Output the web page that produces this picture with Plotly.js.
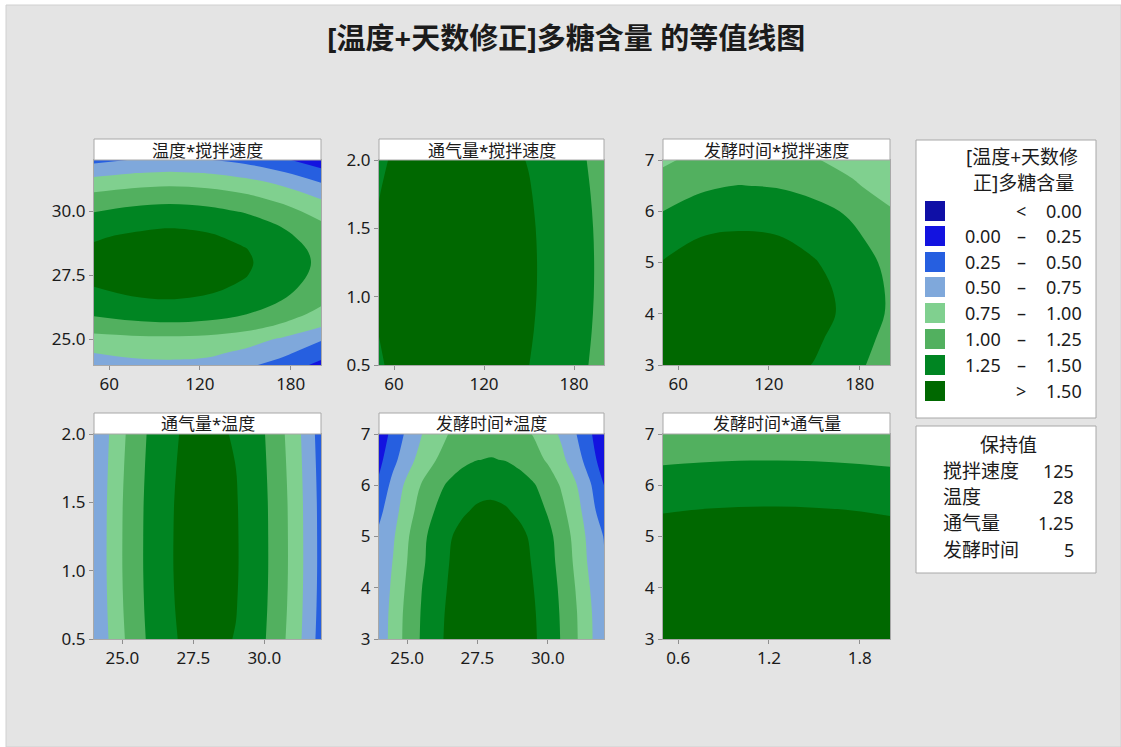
<!DOCTYPE html>
<html>
<head>
<meta charset="utf-8">
<script src="https://cdn.plot.ly/plotly-3.0.1.min.js"></script>
<style>
html, body { margin: 0; padding: 0; background: #ffffff; }
#chart { width: 1121px; height: 747px; }
</style>
</head>
<body>
<div id="chart"></div>
<script>
// ---------------- data ----------------
const speedVals = [50, 75, 100, 125, 150, 175, 200];
const tempVals = [24, 25, 26, 27, 28, 29, 30, 31, 32];
const tempValsFine = [24, 24.5, 25, 25.5, 26, 26.5, 27, 27.5, 28, 28.5, 29, 29.5, 30, 30.5, 31, 31.5, 32];
const airVals = [0.5, 0.75, 1.0, 1.25, 1.5, 1.75, 2.0];
const timeVals = [3, 3.5, 4, 4.5, 5, 5.5, 6, 6.5, 7];

// rows follow the y values, columns follow the x values
// 温度 (rows, tempValsFine) x 搅拌速度 (cols, speedVals)
const zTempSpeed = [
  [0.62, 0.68, 0.70, 0.68, 0.55, 0.40, 0.18],
  [0.76, 0.81, 0.82, 0.80, 0.71, 0.56, 0.36],
  [0.90, 0.93, 0.94, 0.92, 0.85, 0.71, 0.52],
  [1.12, 1.17, 1.19, 1.17, 1.09, 0.95, 0.76],
  [1.28, 1.34, 1.37, 1.34, 1.26, 1.12, 0.93],
  [1.41, 1.47, 1.49, 1.46, 1.38, 1.24, 1.05],
  [1.495, 1.55, 1.57, 1.54, 1.46, 1.32, 1.13],
  [1.54, 1.60, 1.62, 1.59, 1.51, 1.37, 1.18],
  [1.555, 1.61, 1.64, 1.61, 1.53, 1.39, 1.20],
  [1.53, 1.59, 1.615, 1.59, 1.51, 1.37, 1.18],
  [1.48, 1.53, 1.56, 1.53, 1.45, 1.31, 1.12],
  [1.38, 1.44, 1.47, 1.44, 1.36, 1.22, 1.03],
  [1.24, 1.31, 1.34, 1.31, 1.23, 1.09, 0.90],
  [1.09, 1.15, 1.18, 1.15, 1.07, 0.93, 0.74],
  [0.90, 0.96, 0.99, 0.96, 0.88, 0.74, 0.55],
  [0.68, 0.74, 0.77, 0.74, 0.66, 0.52, 0.33],
  [0.43, 0.51, 0.54, 0.51, 0.43, 0.29, 0.10]
];
// 通气量 (rows) x 搅拌速度 (cols)
const zAirSpeed = [
  [1.486, 1.581, 1.611, 1.581, 1.501, 1.361, 1.171],
  [1.503, 1.598, 1.628, 1.598, 1.518, 1.378, 1.188],
  [1.513, 1.608, 1.638, 1.608, 1.528, 1.388, 1.198],
  [1.515, 1.610, 1.640, 1.610, 1.530, 1.390, 1.200],
  [1.510, 1.605, 1.635, 1.605, 1.525, 1.385, 1.195],
  [1.497, 1.592, 1.622, 1.592, 1.512, 1.372, 1.182],
  [1.477, 1.572, 1.602, 1.572, 1.492, 1.352, 1.162]
];
// 发酵时间 (rows) x 搅拌速度 (cols)
const zTimeSpeed = [
  [1.58, 1.64, 1.65, 1.60, 1.49, 1.33, 1.11],
  [1.62, 1.685, 1.69, 1.64, 1.54, 1.38, 1.17],
  [1.66, 1.72, 1.73, 1.69, 1.59, 1.43, 1.22],
  [1.60, 1.68, 1.70, 1.66, 1.57, 1.42, 1.22],
  [1.51, 1.595, 1.625, 1.60, 1.515, 1.38, 1.19],
  [1.41, 1.50, 1.53, 1.51, 1.43, 1.30, 1.12],
  [1.25, 1.35, 1.40, 1.39, 1.33, 1.21, 1.03],
  [1.10, 1.21, 1.255, 1.235, 1.16, 1.04, 0.87],
  [0.96, 1.07, 1.11, 1.09, 1.02, 0.90, 0.77]
];
// 通气量 (rows) x 温度 (cols, tempVals)
const zAirTemp = [
  [0.52, 0.97, 1.31, 1.51, 1.57, 1.49, 1.27, 0.91, 0.40],
  [0.54, 0.99, 1.33, 1.53, 1.59, 1.51, 1.29, 0.93, 0.42],
  [0.55, 1.00, 1.34, 1.54, 1.60, 1.52, 1.30, 0.94, 0.43],
  [0.55, 1.00, 1.34, 1.54, 1.60, 1.52, 1.30, 0.94, 0.43],
  [0.545, 0.995, 1.335, 1.535, 1.595, 1.515, 1.295, 0.935, 0.425],
  [0.53, 0.98, 1.32, 1.52, 1.58, 1.50, 1.28, 0.92, 0.41],
  [0.51, 0.96, 1.30, 1.50, 1.56, 1.48, 1.26, 0.90, 0.39]
];
// 发酵时间 (rows) x 温度 (cols, tempValsFine)
const zTimeTemp = [
  [0.58, 0.85, 1.08, 1.27, 1.43, 1.55, 1.64, 1.69, 1.70, 1.68, 1.62, 1.53, 1.40, 1.23, 1.03, 0.80, 0.53],
  [0.57, 0.84, 1.07, 1.26, 1.42, 1.54, 1.63, 1.68, 1.69, 1.67, 1.61, 1.52, 1.39, 1.22, 1.02, 0.79, 0.52],
  [0.56, 0.80, 1.04, 1.24, 1.40, 1.52, 1.61, 1.665, 1.68, 1.66, 1.60, 1.50, 1.37, 1.20, 0.99, 0.75, 0.52],
  [0.56, 0.76, 1.00, 1.20, 1.37, 1.50, 1.59, 1.645, 1.66, 1.64, 1.58, 1.48, 1.34, 1.17, 0.95, 0.70, 0.52],
  [0.55, 0.72, 0.97, 1.18, 1.35, 1.48, 1.57, 1.625, 1.64, 1.62, 1.555, 1.455, 1.32, 1.14, 0.92, 0.67, 0.49],
  [0.44, 0.65, 0.89, 1.10, 1.26, 1.39, 1.477, 1.53, 1.545, 1.52, 1.46, 1.365, 1.23, 1.06, 0.85, 0.60, 0.36],
  [0.30, 0.58, 0.81, 1.01, 1.17, 1.29, 1.375, 1.426, 1.44, 1.42, 1.36, 1.27, 1.14, 0.97, 0.77, 0.53, 0.25],
  [0.18, 0.43, 0.65, 0.84, 0.99, 1.11, 1.197, 1.246, 1.26, 1.24, 1.18, 1.09, 0.97, 0.805, 0.61, 0.38, 0.10],
  [0.08, 0.335, 0.55, 0.74, 0.89, 1.01, 1.09, 1.136, 1.15, 1.13, 1.075, 0.986, 0.86, 0.705, 0.51, 0.287, 0.04]
];
// 发酵时间 (rows) x 通气量 (cols)
const zTimeAir = [
  [1.651, 1.668, 1.678, 1.680, 1.675, 1.662, 1.642],
  [1.661, 1.678, 1.688, 1.690, 1.685, 1.672, 1.652],
  [1.661, 1.678, 1.688, 1.690, 1.685, 1.672, 1.652],
  [1.631, 1.648, 1.658, 1.660, 1.655, 1.642, 1.622],
  [1.581, 1.598, 1.608, 1.610, 1.605, 1.592, 1.572],
  [1.491, 1.508, 1.518, 1.520, 1.515, 1.502, 1.482],
  [1.371, 1.388, 1.398, 1.400, 1.395, 1.382, 1.362],
  [1.216, 1.233, 1.243, 1.245, 1.240, 1.227, 1.207],
  [1.041, 1.058, 1.068, 1.070, 1.065, 1.052, 1.032]
];

const speedTicks = [60, 120, 180];
const tempTicks = [25, 27.5, 30];
const airTicksY = [0.5, 1.0, 1.5, 2.0];
const airTicksX = [0.6, 1.2, 1.8];
const timeTicks = [3, 4, 5, 6, 7];

const chartTitle = '[温度+天数修正]多糖含量 的等值线图';
const panelTitles = ['温度*搅拌速度', '通气量*搅拌速度', '发酵时间*搅拌速度',
                     '通气量*温度', '发酵时间*温度', '发酵时间*通气量'];
const levelStart = 0, levelEnd = 1.5, levelStep = 0.25;
const legendTitle = ['[温度+天数修', '正]多糖含量'];
const legendLow = ['', '0.00', '0.25', '0.50', '0.75', '1.00', '1.25', ''];
const legendSym = ['<', '–', '–', '–', '–', '–', '–', '>'];
const legendHigh = ['0.00', '0.25', '0.50', '0.75', '1.00', '1.25', '1.50', '1.50'];
const bandColors = ['#0f0fa6', '#1313e0', '#265fe0', '#7fa8db', '#80d08f', '#52b05f', '#008522', '#006800'];
const holdTitle = '保持值';
const holdNames = ['搅拌速度', '温度', '通气量', '发酵时间'];
const holdValues = ['125', '28', '1.25', '5'];

// ---------------- layout helpers ----------------
const W = 1121, H = 747;
const fx = p => p / W;
const fy = p => 1 - p / H;
const FONT = 'Noto Sans, Noto Sans CJK SC, sans-serif';
const TXT = '#1b1b1b';

const colsPx = [[94, 321], [379, 604], [663, 890]];
const rowsPx = [[160, 365], [434, 639]];
const headPx = [[139, 160], [413, 434]];

const colorscale = bandColors.map((c, i) => [i / (bandColors.length - 1), c]);

const panels = [
  {x: speedVals, y: tempValsFine, z: zTempSpeed, xr: [50, 200], yr: [24, 32], xt: speedTicks, xf: '', yt: tempTicks, yf: '.1f'},
  {x: speedVals, y: airVals, z: zAirSpeed, xr: [50, 200], yr: [0.5, 2.0], xt: speedTicks, xf: '', yt: airTicksY, yf: '.1f'},
  {x: speedVals, y: timeVals, z: zTimeSpeed, xr: [50, 200], yr: [3, 7], xt: speedTicks, xf: '', yt: timeTicks, yf: ''},
  {x: tempVals, y: airVals, z: zAirTemp, xr: [24, 32], yr: [0.5, 2.0], xt: tempTicks, xf: '.1f', yt: airTicksY, yf: '.1f'},
  {x: tempValsFine, y: timeVals, z: zTimeTemp, xr: [24, 32], yr: [3, 7], xt: tempTicks, xf: '.1f', yt: timeTicks, yf: ''},
  {x: airVals, y: timeVals, z: zTimeAir, xr: [0.5, 2.0], yr: [3, 7], xt: airTicksX, xf: '.1f', yt: timeTicks, yf: ''}
];

const traces = [];
const layout = {
  width: W, height: H,
  margin: {l: 0, r: 0, t: 0, b: 0},
  paper_bgcolor: '#ffffff',
  plot_bgcolor: 'rgba(0,0,0,0)',
  showlegend: false,
  font: {family: FONT, color: TXT},
  shapes: [],
  annotations: []
};

// figure background
layout.shapes.push({type: 'rect', xref: 'paper', yref: 'paper', layer: 'below',
  x0: fx(6), x1: fx(1121), y0: fy(747), y1: fy(5),
  fillcolor: '#e4e4e4', line: {color: '#d0d0d0', width: 1}});

panels.forEach((p, i) => {
  const col = i % 3, row = Math.floor(i / 3);
  const n = i === 0 ? '' : String(i + 1);
  traces.push({
    type: 'contour', x: p.x, y: p.y, z: p.z,
    xaxis: 'x' + n, yaxis: 'y' + n,
    autocontour: false,
    contours: {start: levelStart, end: levelEnd, size: levelStep, coloring: 'fill', showlines: false},
    line: {width: 0, smoothing: 1},
    colorscale: colorscale,
    showscale: false,
    hoverinfo: 'skip'
  });
  const axCommon = {
    ticks: 'outside', ticklen: 4, tickwidth: 1, tickcolor: '#8f8f8f',
    showline: true, mirror: true, linecolor: '#a8a8a8', linewidth: 1,
    showgrid: false, zeroline: false, fixedrange: true,
    tickfont: {family: FONT, size: 17, color: TXT}
  };
  layout['xaxis' + n] = Object.assign({}, axCommon, {
    domain: [fx(colsPx[col][0]), fx(colsPx[col][1])],
    range: p.xr, tickmode: 'array', tickvals: p.xt, tickformat: p.xf,
    anchor: 'y' + n
  });
  layout['yaxis' + n] = Object.assign({}, axCommon, {
    domain: [fy(rowsPx[row][1]), fy(rowsPx[row][0])],
    range: p.yr, tickmode: 'array', tickvals: p.yt, tickformat: p.yf,
    anchor: 'x' + n
  });
  // header box
  layout.shapes.push({type: 'rect', xref: 'paper', yref: 'paper', layer: 'above',
    x0: fx(colsPx[col][0]), x1: fx(colsPx[col][1]),
    y0: fy(headPx[row][1]), y1: fy(headPx[row][0]),
    fillcolor: '#ffffff', line: {color: '#a8a8a8', width: 1}});
  layout.annotations.push({xref: 'paper', yref: 'paper', showarrow: false,
    x: fx((colsPx[col][0] + colsPx[col][1]) / 2), y: fy((headPx[row][0] + headPx[row][1]) / 2 + 0.5),
    xanchor: 'center', yanchor: 'middle', text: panelTitles[i],
    font: {family: FONT, size: 17, color: TXT}});
});

// main title
layout.annotations.push({xref: 'paper', yref: 'paper', showarrow: false,
  x: fx(566), y: fy(38), xanchor: 'center', yanchor: 'middle',
  text: '<b>' + chartTitle + '</b>', font: {family: FONT, size: 29, color: TXT}});

// legend box
layout.shapes.push({type: 'rect', xref: 'paper', yref: 'paper', layer: 'above',
  x0: fx(916), x1: fx(1096), y0: fy(418), y1: fy(140),
  fillcolor: '#ffffff', line: {color: '#a8a8a8', width: 1}});
layout.annotations.push({xref: 'paper', yref: 'paper', showarrow: false,
  x: fx(1022), y: fy(157), xanchor: 'center', yanchor: 'middle', text: legendTitle[0],
  font: {family: FONT, size: 19, color: TXT}});
layout.annotations.push({xref: 'paper', yref: 'paper', showarrow: false,
  x: fx(1023), y: fy(183), xanchor: 'center', yanchor: 'middle', text: legendTitle[1],
  font: {family: FONT, size: 19, color: TXT}});
const rowY = [211, 236, 262, 287, 313, 339, 365, 391];
bandColors.forEach((c, i) => {
  const yc = rowY[i];
  layout.shapes.push({type: 'rect', xref: 'paper', yref: 'paper', layer: 'above',
    x0: fx(925), x1: fx(945), y0: fy(yc + 10), y1: fy(yc - 10),
    fillcolor: c, line: {width: 0}});
  if (legendLow[i]) layout.annotations.push({xref: 'paper', yref: 'paper', showarrow: false,
    x: fx(1003), y: fy(yc), xanchor: 'right', yanchor: 'middle', text: legendLow[i],
    font: {family: FONT, size: 18, color: TXT}});
  layout.annotations.push({xref: 'paper', yref: 'paper', showarrow: false,
    x: fx(1021), y: fy(yc), xanchor: 'center', yanchor: 'middle', text: legendSym[i],
    font: {family: FONT, size: 18, color: TXT}});
  layout.annotations.push({xref: 'paper', yref: 'paper', showarrow: false,
    x: fx(1084), y: fy(yc), xanchor: 'right', yanchor: 'middle', text: legendHigh[i],
    font: {family: FONT, size: 18, color: TXT}});
});

// hold values box
layout.shapes.push({type: 'rect', xref: 'paper', yref: 'paper', layer: 'above',
  x0: fx(916), x1: fx(1096), y0: fy(573), y1: fy(426),
  fillcolor: '#ffffff', line: {color: '#a8a8a8', width: 1}});
layout.annotations.push({xref: 'paper', yref: 'paper', showarrow: false,
  x: fx(1008), y: fy(445), xanchor: 'center', yanchor: 'middle', text: holdTitle,
  font: {family: FONT, size: 19, color: TXT}});
const holdY = [471, 497, 523, 550];
holdNames.forEach((nm, i) => {
  layout.annotations.push({xref: 'paper', yref: 'paper', showarrow: false,
    x: fx(941), y: fy(holdY[i]), xanchor: 'left', yanchor: 'middle', text: nm,
    font: {family: FONT, size: 19, color: TXT}});
  layout.annotations.push({xref: 'paper', yref: 'paper', showarrow: false,
    x: fx(1076), y: fy(holdY[i]), xanchor: 'right', yanchor: 'middle', text: holdValues[i],
    font: {family: FONT, size: 18, color: TXT}});
});

Plotly.newPlot('chart', traces, layout, {staticPlot: true, displayModeBar: false});
</script>
</body>
</html>
